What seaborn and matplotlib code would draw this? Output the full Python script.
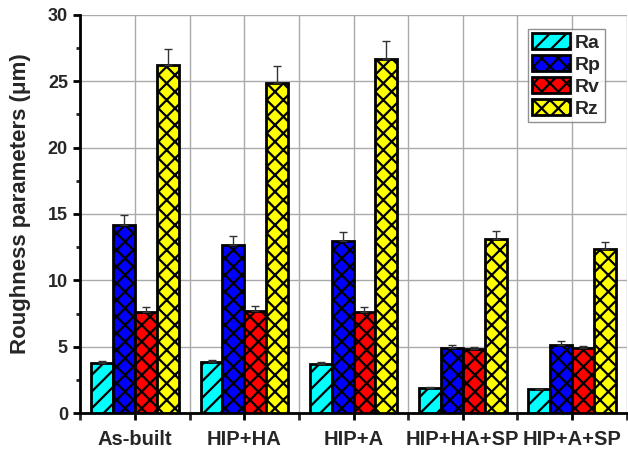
import numpy as np
import pandas as pd
import matplotlib
matplotlib.use("Agg")
import matplotlib.pyplot as plt
from matplotlib.patches import Patch
from matplotlib.ticker import MultipleLocator
import seaborn as sns

groups = ["As-built", "HIP+HA", "HIP+A", "HIP+HA+SP", "HIP+A+SP"]
params = ["Ra", "Rp", "Rv", "Rz"]
ra = [3.8, 3.85, 3.7, 1.9, 1.8]
rp = [14.2, 12.7, 13.0, 4.9, 5.15]
rv = [7.6, 7.7, 7.6, 4.8, 4.9]
rz = [26.2, 24.9, 26.7, 13.1, 12.35]
ra_err = [0.15, 0.15, 0.12, 0.05, 0.05]
rp_err = [0.7, 0.65, 0.65, 0.2, 0.25]
rv_err = [0.4, 0.4, 0.4, 0.15, 0.15]
rz_err = [1.25, 1.25, 1.35, 0.6, 0.55]

values = [ra, rp, rv, rz]
errors = [ra_err, rp_err, rv_err, rz_err]

rows = []
for p, vals, errs in zip(params, values, errors):
    for g, v, e in zip(groups, vals, errs):
        rows.append({"group": g, "param": p, "value": v, "err": e})
df = pd.DataFrame(rows)

colors = ["#00FFFF", "#0000FF", "#FF0000", "#FFFF00"]
hatches = ["//", "xx", "xx", "xx"]

sns.set_style("white")
plt.rcParams["font.family"] = ["Liberation Sans", "DejaVu Sans"]
plt.rcParams["hatch.linewidth"] = 1.6
plt.rcParams["hatch.color"] = "black"

fig = plt.figure(figsize=(6.28, 4.5), dpi=100)
ax = fig.add_axes([0.128, 0.082, 0.870, 0.885])

sns.barplot(data=df, x="group", y="value", hue="param", order=groups,
            hue_order=params, palette=colors, errorbar=None, width=0.8,
            edgecolor="black", linewidth=2, saturation=1, ax=ax, legend=False,
            zorder=3)

bar_containers = list(ax.containers)
for i, cont in enumerate(bar_containers):
    xs = []
    hs = []
    for bar in cont:
        bar.set_hatch(hatches[i])
        xs.append(bar.get_x() + bar.get_width() / 2)
        hs.append(bar.get_height())
    err = errors[i]
    ax.errorbar(xs, hs, yerr=[np.zeros(len(err)), err], fmt="none",
                ecolor="#333333", elinewidth=1.0, capsize=3, capthick=1.0,
                zorder=4)

ax.set_xlim(-0.5, 4.5)
ax.set_ylim(0, 30)
ax.yaxis.set_major_locator(MultipleLocator(5))
ax.yaxis.set_minor_locator(MultipleLocator(2.5))
ax.set_xticks(range(len(groups)))
ax.set_xticks(np.arange(-0.5, 4.6, 1.0), minor=True)
ax.set_xticklabels(groups, fontsize=14.5, fontweight="bold")
for lab in ax.get_yticklabels():
    lab.set_fontsize(13)
    lab.set_fontweight("bold")

ax.grid(True, which="both", axis="x", color="#aaaaaa", linewidth=1, zorder=0)
ax.grid(True, which="major", axis="y", color="#aaaaaa", linewidth=1, zorder=0)
ax.set_axisbelow(True)

ax.tick_params(axis="both", which="major", direction="out", length=5, width=2,
               color="black", bottom=True, left=True, pad=4)
ax.tick_params(axis="y", which="minor", direction="out", length=3, width=2,
               left=True)
ax.tick_params(axis="x", which="minor", direction="out", length=5, width=2,
               bottom=True)
ax.tick_params(axis="x", which="major", pad=7)

for side in ["left", "bottom"]:
    ax.spines[side].set_linewidth(2)
    ax.spines[side].set_color("black")
for side in ["top", "right"]:
    ax.spines[side].set_visible(False)

ax.set_xlabel("")
ax.set_ylabel("Roughness parameters (μm)", fontsize=16, fontweight="bold")
ax.yaxis.set_label_coords(-0.09, 0.525)

handles = [Patch(facecolor=c, edgecolor="black", hatch=h, linewidth=2)
           for c, h in zip(colors, hatches)]
leg = ax.legend(handles, params, loc="upper right",
                bbox_to_anchor=(0.96, 0.965), frameon=True, fancybox=False,
                prop={"weight": "bold", "size": 14}, handlelength=1.95,
                handleheight=0.95, handletextpad=0.25, labelspacing=0.15,
                borderpad=0.2, borderaxespad=0.0)
leg.get_frame().set_edgecolor("#777777")
leg.get_frame().set_linewidth(1)

fig.savefig("out.png", dpi=100)
